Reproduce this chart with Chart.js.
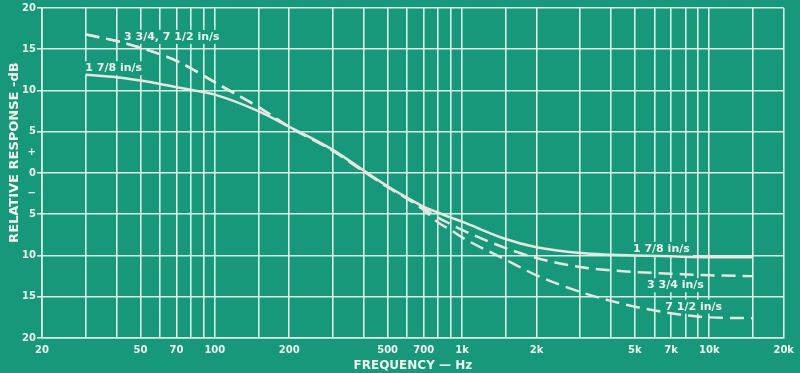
<!DOCTYPE html>
<html>
<head>
<meta charset="utf-8">
<script src="https://cdn.jsdelivr.net/npm/chart.js@4.4.1/dist/chart.umd.min.js"></script>
<style>
html,body{margin:0;padding:0;background:#18987a;}
#wrap{width:800px;height:373px;}
</style>
</head>
<body>
<div id="wrap"><canvas id="c" width="800" height="373"></canvas></div>
<script>
// ---- data ----
const frequencies = [30,40,50,60,70,80,90,100,150,200,300,400,500,600,700,800,900,1000,1500,2000,3000,4000,5000,7000,10000,15000];
const speed178 = [11.9,11.6,11.2,10.8,10.4,10.1,9.8,9.5,7.5,5.6,2.8,0.3,-1.6,-3.0,-4.1,-4.8,-5.4,-5.9,-8.0,-9.0,-9.7,-9.9,-10.0,-10.1,-10.2,-10.2];
const speed334 = [16.8,16.0,15.2,14.4,13.6,12.7,11.8,11.0,8.0,5.6,2.7,0.2,-1.7,-3.1,-4.3,-5.4,-6.2,-6.9,-9.1,-10.3,-11.4,-11.8,-12.0,-12.2,-12.4,-12.5];
const speed712 = [16.8,16.0,15.2,14.4,13.6,12.7,11.8,11.0,8.0,5.6,2.7,0.2,-1.7,-3.1,-4.5,-6.0,-6.9,-7.8,-10.5,-12.4,-14.4,-15.5,-16.2,-17.0,-17.5,-17.6];
const xGridValues = [20,30,40,50,60,70,80,90,100,150,200,300,400,500,600,700,800,900,1000,1500,2000,3000,4000,5000,6000,7000,8000,9000,10000,15000,20000];
const xTickLabels = {20:'20',50:'50',70:'70',100:'100',200:'200',500:'500',700:'700',1000:'1k',2000:'2k',5000:'5k',7000:'7k',10000:'10k',20000:'20k'};
const curveLabels = [
  {text:'3 3/4, 7 1/2 in/s', f:67, db:16.5},
  {text:'1 7/8 in/s', f:39, db:12.7},
  {text:'1 7/8 in/s', f:6400, db:-9.2},
  {text:'3 3/4 in/s', f:7300, db:-13.6},
  {text:'7 1/2 in/s', f:8650, db:-16.2}
];

const BG = '#18987a';
const GRID = '#d6f2e6';
const LINE = '#e3e8e0';
const TEXT = '#eef5ec';
const FONT = '"DejaVu Sans", sans-serif';

const toPoints = arr => frequencies.map((f,i)=>({x:f,y:arr[i]}));

const bgPlugin = {
  id:'bg',
  beforeDraw(chart){
    const ctx = chart.ctx;
    ctx.save();
    ctx.fillStyle = BG;
    ctx.fillRect(0,0,chart.width,chart.height);
    ctx.restore();
  }
};

const labelPlugin = {
  id:'curveLabels',
  beforeDatasetsDraw(chart){
    const ctx = chart.ctx, xs = chart.scales.x, ys = chart.scales.y;
    ctx.save();
    ctx.font = 'bold 11px ' + FONT;
    ctx.textAlign = 'center';
    ctx.textBaseline = 'middle';
    curveLabels.forEach(l=>{
      const x = xs.getPixelForValue(l.f), y = ys.getPixelForValue(l.db);
      const w = ctx.measureText(l.text).width;
      ctx.fillStyle = BG;
      ctx.fillRect(x - w/2 - 3, y - 7, w + 6, 14);
      ctx.fillStyle = TEXT;
      ctx.fillText(l.text, x, y);
    });
    ctx.restore();
  }
};

const gridColor = ctx => (ctx.tick && Math.abs(ctx.tick.value % 5) < 1e-6) ? GRID : 'rgba(0,0,0,0)';

new Chart(document.getElementById('c'), {
  type:'line',
  data:{
    datasets:[
      {label:'1 7/8 in/s', data:toPoints(speed178), borderColor:LINE, borderWidth:2.5, pointRadius:0, cubicInterpolationMode:'monotone', fill:false},
      {label:'3 3/4 in/s', data:toPoints(speed334), borderColor:LINE, borderWidth:2.5, borderDash:[14,7], pointRadius:0, cubicInterpolationMode:'monotone', fill:false},
      {label:'7 1/2 in/s', data:toPoints(speed712), borderColor:LINE, borderWidth:2.5, borderDash:[14,7], pointRadius:0, cubicInterpolationMode:'monotone', fill:false}
    ]
  },
  options:{
    responsive:false,
    animation:false,
    devicePixelRatio:1,
    layout:{padding:{top:8,right:15,bottom:0,left:0}},
    plugins:{legend:{display:false},tooltip:{enabled:false}},
    scales:{
      x:{
        type:'logarithmic', min:20, max:20000,
        afterBuildTicks(scale){ scale.ticks = xGridValues.map(v=>({value:v})); },
        afterFit(scale){ scale.height = 35; },
        grid:{color:GRID, lineWidth:1.6, drawTicks:false},
        border:{color:GRID, width:1.6},
        ticks:{autoSkip:false, maxRotation:0, padding:6, color:TEXT, font:{family:FONT, size:10, weight:'bold'},
          callback:(v)=> xTickLabels[v] !== undefined ? xTickLabels[v] : ''},
        title:{display:true, text:'FREQUENCY — Hz', color:TEXT, font:{family:FONT, size:12, weight:'bold'}, padding:{top:3,bottom:0}}
      },
      y:{
        type:'linear', min:-20, max:20,
        afterFit(scale){ scale.width = 42; },
        grid:{color:gridColor, tickColor:gridColor, lineWidth:1.6, tickLength:5},
        border:{color:GRID, width:1.6},
        ticks:{stepSize:2.5, padding:1, color:TEXT, font:{family:FONT, size:10, weight:'bold'},
          callback:(v)=>{
            if (Math.abs(v%5) < 1e-6) return String(Math.abs(v));
            if (v === 2.5) return '+';
            if (v === -2.5) return '−';
            return '';
          }},
        title:{display:true, text:'         RELATIVE RESPONSE -dB', color:TEXT, font:{family:FONT, size:13, weight:'bold'}, padding:{top:7,bottom:0}}
      }
    }
  },
  plugins:[bgPlugin,labelPlugin]
});
</script>
</body>
</html>
